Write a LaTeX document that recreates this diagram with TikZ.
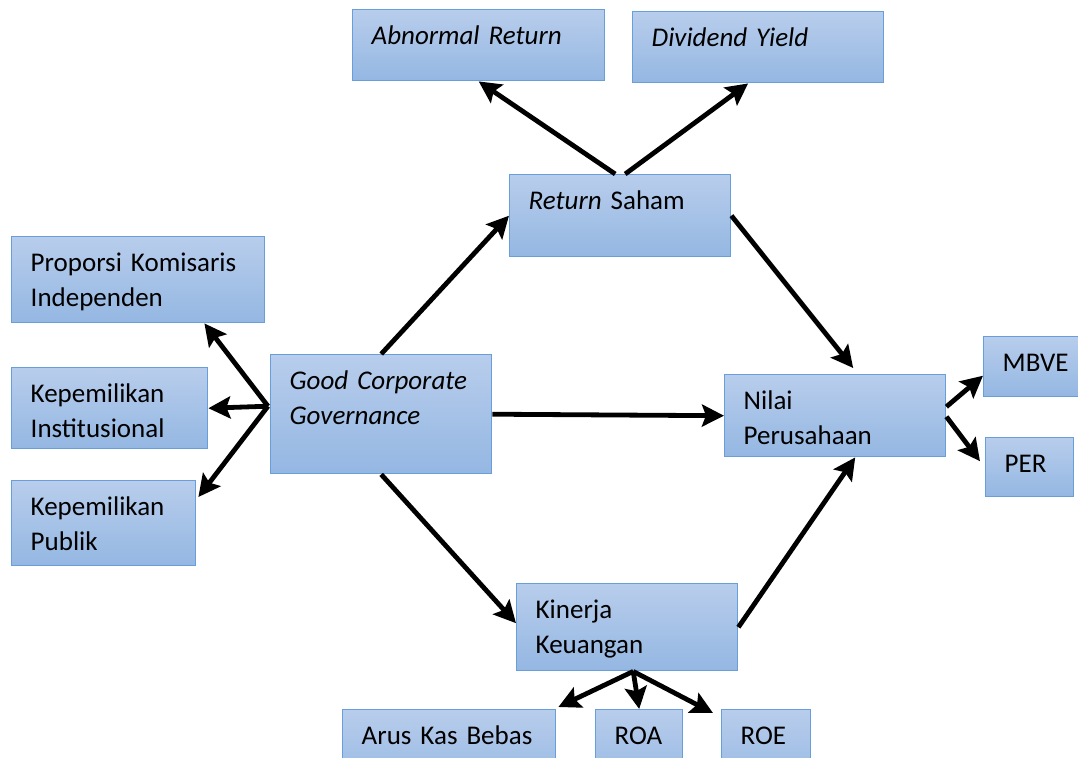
\documentclass[tikz,border=0pt]{standalone}
\usepackage{fontspec}
\setmainfont{Carlito}
\usetikzlibrary{arrows.meta}
\definecolor{boxtop}{RGB}{184,205,236}
\definecolor{boxbot}{RGB}{148,183,226}
\definecolor{boxline}{RGB}{104,158,218}

\begin{document}
\begin{tikzpicture}[x=0.5pt,y=-0.5pt,
  >={Stealth[length=11pt,width=11pt,inset=2pt]},
  var/.style={draw=boxline,line width=0.7pt,top color=boxtop,bottom color=boxbot,
              anchor=north west,align=left,inner xsep=9.5pt,inner ysep=0pt,
              text height=17.5pt,font=\fontsize{13.5}{17.5}\selectfont},
  link/.style={->,line width=2.4pt},
]
  \useasboundingbox (0,0) rectangle (1078,757);
  \clip (0,0) rectangle (1078,757);

  % --- return saham and its measures ---
  \node[var,minimum width=126pt,text width=107pt,text depth=18pt] (abn) at (352,9) {\textit{Abnormal Return}};
  \node[var,minimum width=125.5pt,text width=106.5pt,text depth=18pt] (div) at (632,11) {\textit{Dividend Yield}};
  \node[var,minimum width=110.5pt,text width=91.5pt,text depth=23.5pt] (rs) at (509,174) {\textit{Return} Saham};

  % --- gcg and its measures ---
  \node[var,minimum width=126.5pt,text width=107.5pt,text depth=25.5pt] (pki) at (11,236) {Proporsi Komisaris\\Independen};
  \node[var,minimum width=98pt,text width=79pt,text depth=23pt] (ins) at (11,367) {Kepemilikan\\Institusional};
  \node[var,minimum width=92pt,text width=73pt,text depth=25pt] (pub) at (11,480) {Kepemilikan\\Publik};
  \node[var,minimum width=110.5pt,text width=91.5pt,text depth=42pt] (gcg) at (270,354) {\textit{Good Corporate}\\\textit{Governance}};

  % --- nilai perusahaan ---
  \node[var,minimum width=110.5pt,text width=91.5pt,text depth=23.5pt] (np) at (724,374) {Nilai\\Perusahaan};
  \node[var,minimum width=60pt,text width=41pt,text depth=12.5pt] (mbve) at (983,336) {MBVE};
  \node[var,minimum width=44pt,text width=25pt,text depth=12pt] (per) at (985,437) {PER};

  % --- kinerja keuangan ---
  \node[var,minimum width=110.5pt,text width=91.5pt,text depth=26pt] (ki) at (516,583) {Kinerja\\Keuangan};
  \node[var,minimum width=106.5pt,text width=87.5pt,text depth=22.5pt] (akb) at (342,709) {Arus Kas Bebas};
  \node[var,minimum width=43.5pt,text width=24.5pt,text depth=22.5pt] (roa) at (595,709) {ROA};
  \node[var,minimum width=44.5pt,text width=25.5pt,text depth=22.5pt] (roe) at (721,709) {ROE};

  % --- main paths ---
  \draw[link] (gcg.north) -- (rs.west);
  \draw[link] (rs.east) -- ([xshift=9pt,yshift=3pt]np.north);
  \draw[link] (gcg.east) -- (np.west);
  \draw[link] (gcg.south) -- ([yshift=2pt]ki.west);
  \draw[link] (ki.east) -- ([xshift=10pt]np.south);

  % --- measures ---
  \draw[link] ([xshift=-2.5pt]rs.north) -- (abn.south);
  \draw[link] ([xshift=2.5pt]rs.north) -- ([xshift=-5pt]div.south);

  \coordinate (gl) at ([xshift=-1pt,yshift=4pt]gcg.west);
  \draw[link] (gl) -- ([xshift=-30.5pt]pki.south east);
  \draw[link] (gl) -- (ins.east);
  \draw[link] (gl) -- ([xshift=1pt,yshift=-8.5pt]pub.north east);

  \draw[link] ([yshift=4.5pt]np.east) -- ([yshift=-4.5pt]mbve.west);
  \draw[link] ([yshift=-0.5pt]np.east) -- ([xshift=-2.5pt,yshift=3pt]per.west);

  \coordinate (kb) at ([xshift=3pt]ki.south);
  \draw[link] (kb) -- ([xshift=1pt,yshift=1pt]akb.north east);
  \draw[link] (kb) -- (roa.north);
  \draw[link] (kb) -- ([xshift=-4pt,yshift=-2pt]roe.north west);

\end{tikzpicture}
\end{document}
